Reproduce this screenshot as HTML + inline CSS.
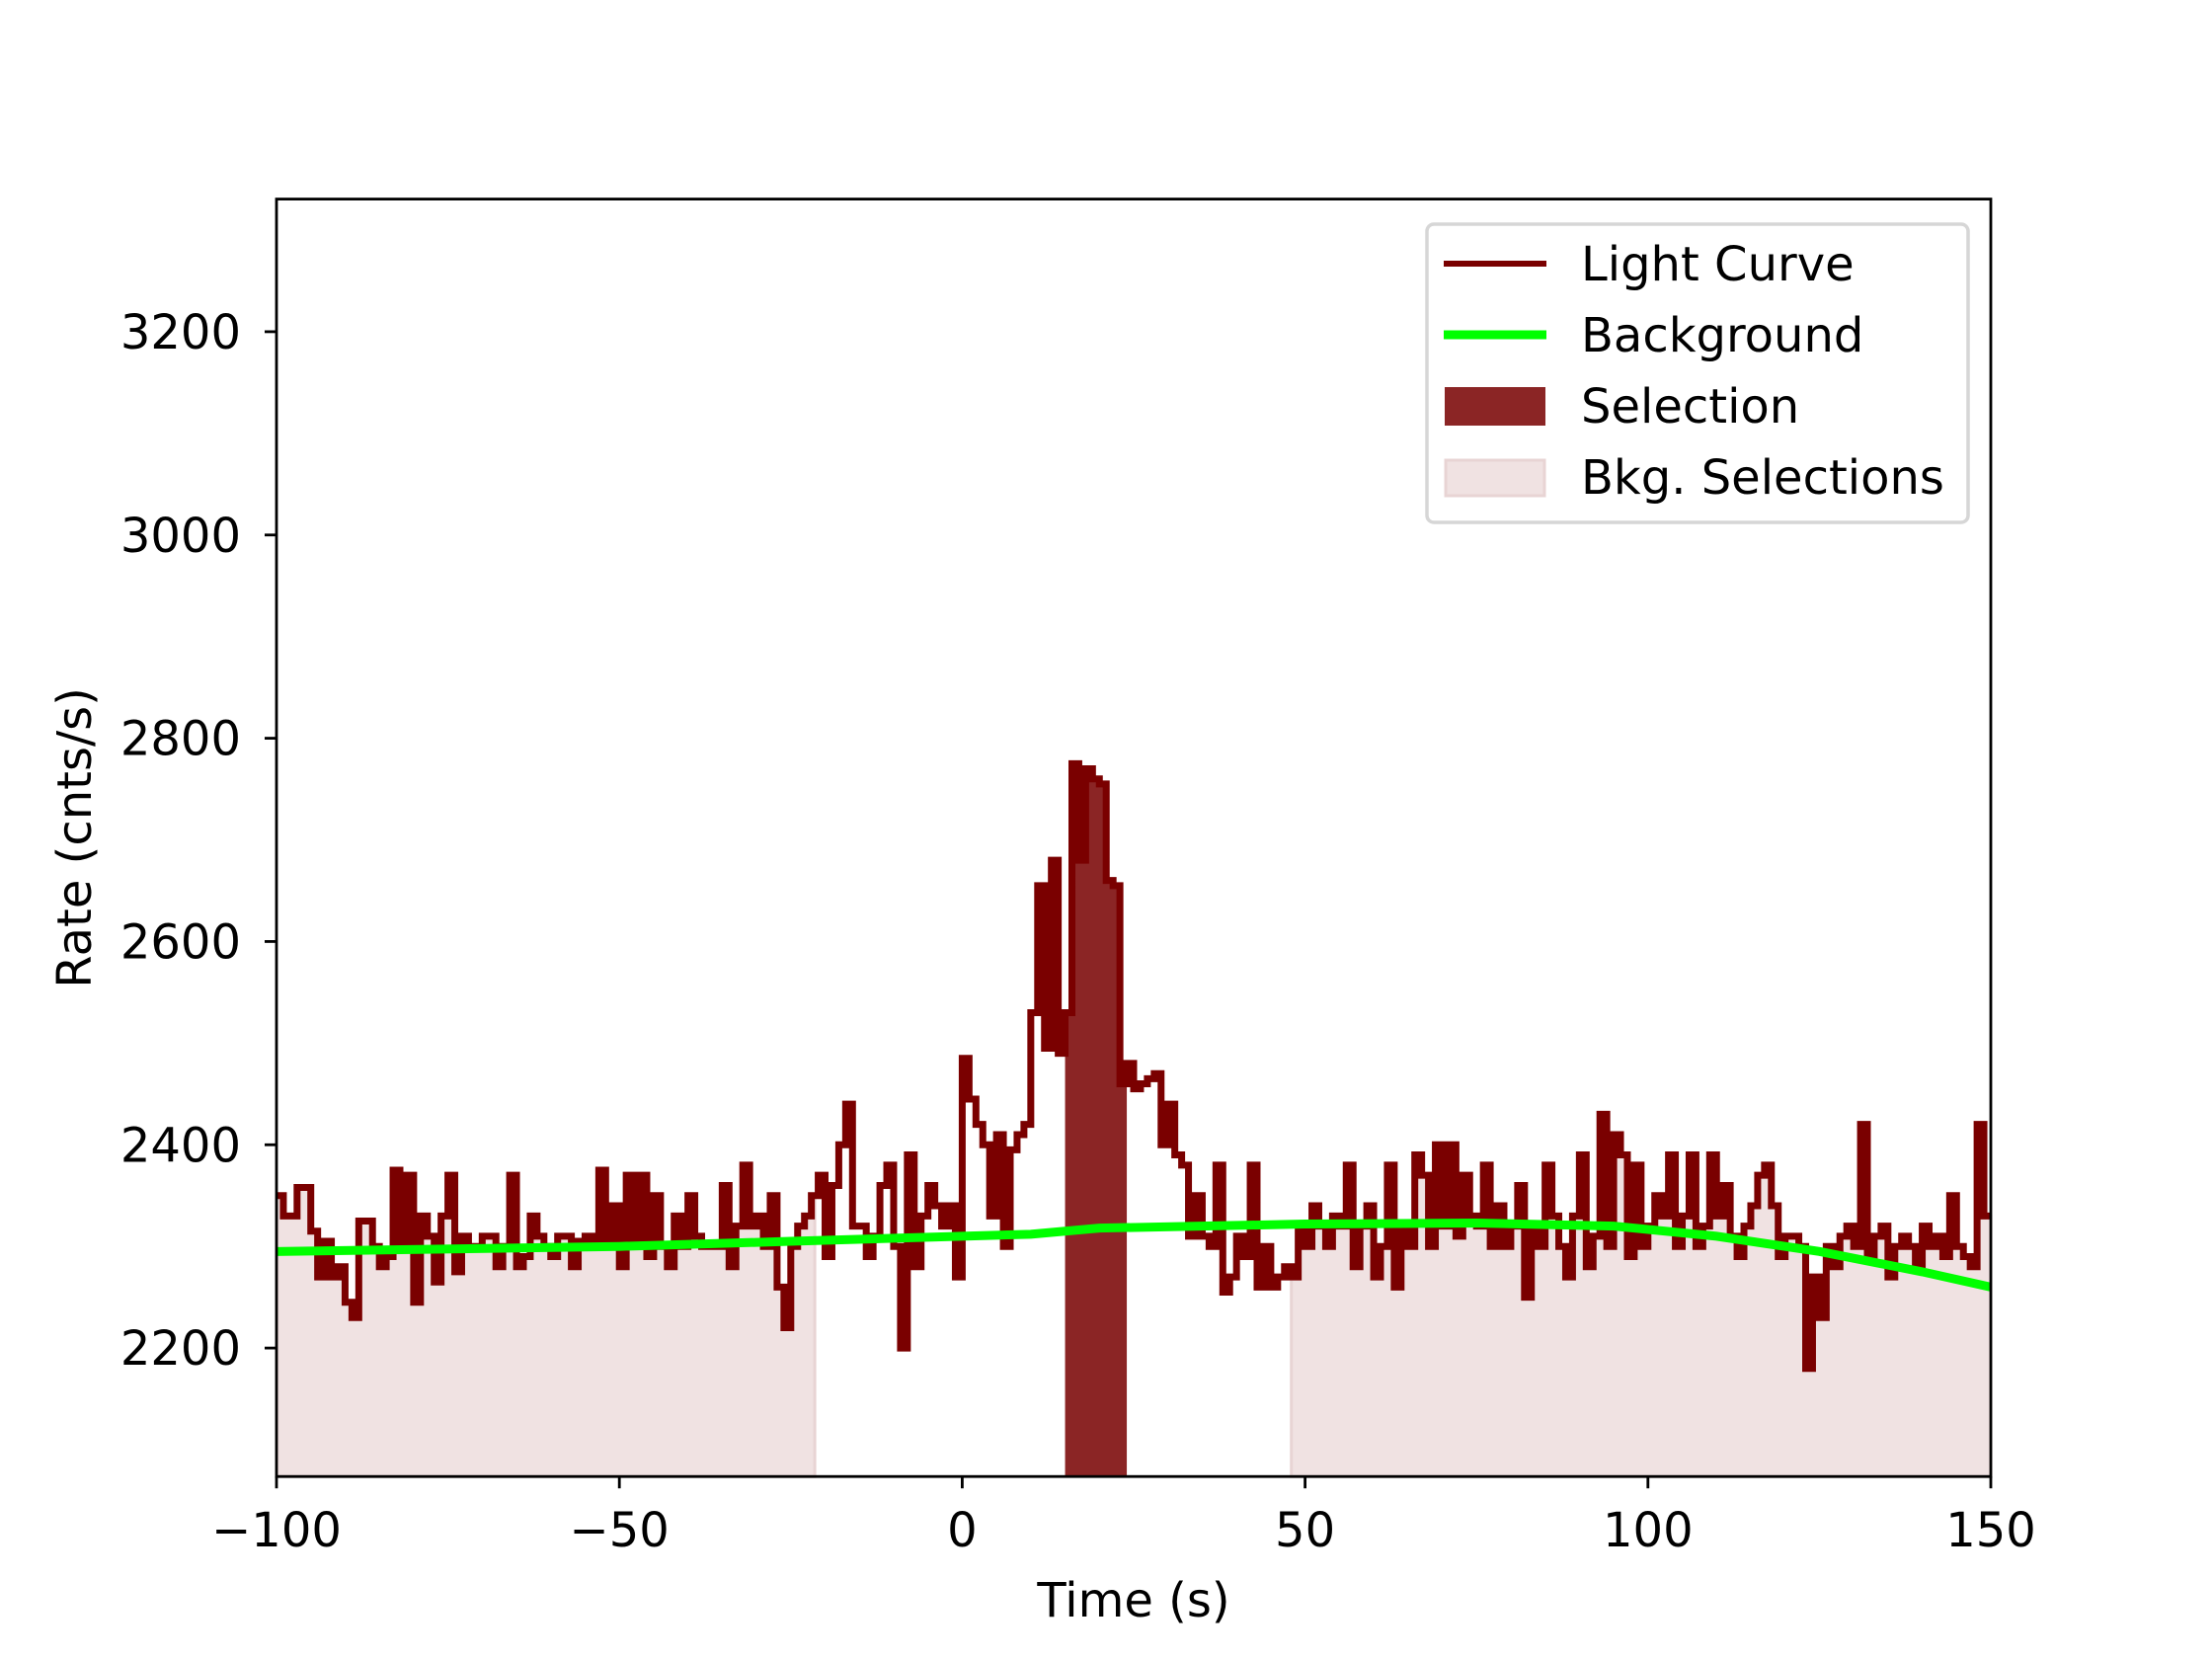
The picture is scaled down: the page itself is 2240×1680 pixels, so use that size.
<!DOCTYPE html>
<html><head><meta charset="utf-8"><style>
html,body{margin:0;padding:0;background:#fff;}
svg{display:block;font-family:"DejaVu Sans","Liberation Sans",sans-serif;}
</style></head><body>
<svg id="chart" width="2240" height="1680" viewBox="0 0 2240 1680" xmlns="http://www.w3.org/2000/svg">
<g id="plot"></g>
</svg>
<script>
const t0 = -100;
const binWidth = 1;
const rates = [
2350,2330,2330,2358,2358,2315,2270,2305,2270,2280,
2245,2230,2325,2325,2300,2280,2290,2375,2300,2370,
2245,2330,2310,2265,2330,2370,2275,2310,2300,2300,
2310,2310,2280,2300,2370,2280,2290,2330,2310,2300,
2290,2310,2310,2280,2305,2310,2305,2375,2300,2340,
2280,2370,2300,2370,2290,2350,2300,2280,2330,2300,
2350,2310,2300,2300,2300,2360,2280,2320,2380,2320,
2330,2300,2350,2260,2220,2300,2320,2330,2350,2370,
2290,2360,2400,2440,2320,2320,2290,2310,2360,2380,
2300,2200,2390,2280,2330,2360,2340,2320,2340,2270,
2485,2445,2420,2400,2330,2410,2300,2395,2410,2420,
2530,2655,2495,2680,2490,2530,2775,2680,2770,2760,
2755,2660,2655,2460,2480,2455,2460,2465,2470,2400,
2440,2390,2380,2310,2350,2310,2300,2380,2255,2270,
2310,2290,2380,2260,2300,2260,2270,2280,2270,2320,
2300,2340,2320,2300,2330,2320,2380,2280,2320,2340,
2270,2300,2380,2260,2320,2300,2390,2370,2300,2400,
2320,2400,2310,2370,2330,2320,2380,2300,2340,2300,
2320,2360,2250,2320,2300,2380,2330,2300,2270,2330,
2390,2280,2310,2430,2300,2410,2390,2290,2380,2300,
2320,2350,2330,2390,2300,2330,2390,2300,2320,2390,
2330,2360,2310,2290,2320,2340,2370,2380,2340,2290,
2310,2310,2300,2180,2270,2230,2300,2280,2310,2320,
2300,2420,2290,2310,2320,2270,2300,2310,2300,2280,
2320,2300,2310,2290,2350,2300,2290,2280,2420,2330];
const bgTimes = [-100,-50,-25,0,10,20,50,75,95,110,125,140,150];
const bgRates = [2295,2300,2305,2310,2312,2318,2322,2323,2320,2310,2295,2275,2260];
const selection = [15,24];
const bkgSelections = [[-100,-21.5],[48,150]];
const xTicks = [-100,-50,0,50,100,150];
const xTickLabels = ["\u2212100","\u221250","0","50","100","150"];
const yTicks = [2200,2400,2600,2800,3000,3200];
const yTickLabels = ["2200","2400","2600","2800","3000","3200"];
const legendLabels = ["Light Curve","Background","Selection","Bkg. Selections"];

const L=280,R=2016,T=201.6,B=1495.2;
const xMin=-100,xMax=150,yMin=2073.6,yMax=3330.5;
const X=v=>L+(v-xMin)/(xMax-xMin)*(R-L);
const Y=v=>B-(v-yMin)/(yMax-yMin)*(B-T);
const NS="http://www.w3.org/2000/svg";
const g=document.getElementById('plot');
function mk(tag,attrs,parent){const e=document.createElementNS(NS,tag);for(const k in attrs)e.setAttribute(k,attrs[k]);(parent||g).appendChild(e);return e;}
function rateAt(t){let i=Math.floor((t-t0)/binWidth);i=Math.max(0,Math.min(rates.length-1,i));return rates[i];}
function stepFill(a,b){
  let d=`M${X(a)},${Y(yMin)}`;
  let t=a;
  while(t<b){const i=Math.floor((t-t0)/binWidth+1e-9);const te=Math.min(b,t0+(i+1)*binWidth);const r=rateAt(t+1e-6);d+=` L${X(t)},${Y(r)} L${X(te)},${Y(r)}`;t=te;}
  d+=` L${X(b)},${Y(yMin)} Z`;return d;
}
bkgSelections.forEach((s,k)=>{
  const p=mk('path',{d:stepFill(s[0],s[1]),fill:'#f0e2e2',stroke:'#e8d4d4','stroke-width':3});
  
  
});
const sp=mk('path',{d:stepFill(selection[0],selection[1]),fill:'#8b2525'});


let d='';
rates.forEach((r,i)=>{const a=t0+i*binWidth,b=a+binWidth;d+=(i===0?`M${X(a)},${Y(r)}`:` L${X(a)},${Y(r)}`)+` L${X(b)},${Y(r)}`;});
const lc=mk('path',{d:d,fill:'none',stroke:'#7a0000','stroke-width':7,'stroke-linejoin':'miter'});


const bg=mk('polyline',{points:bgTimes.map((t,i)=>X(t)+','+Y(bgRates[i])).join(' '),fill:'none',stroke:'#00ff00','stroke-width':9});


const fr=mk('rect',{x:L,y:T,width:R-L,height:B-T,fill:'none',stroke:'#000','stroke-width':2.8});


xTicks.forEach((v,i)=>{
  const tk=mk('line',{x1:X(v),x2:X(v),y1:B,y2:B+12,stroke:'#000','stroke-width':2.8});
  
  
  const tx=mk('text',{x:X(v),y:B+71,'font-size':48,'text-anchor':'middle',fill:'#000'});
  tx.textContent=xTickLabels[i];
  
  
});
yTicks.forEach((v,i)=>{
  const tk=mk('line',{x1:L-12,x2:L,y1:Y(v),y2:Y(v),stroke:'#000','stroke-width':2.8});
  
  
  const tx=mk('text',{x:L-36,y:Y(v)+17,'font-size':48,'text-anchor':'end',fill:'#000'});
  tx.textContent=yTickLabels[i];
  
  
});
const xl=mk('text',{x:(L+R)/2,y:1637,'font-size':48,'text-anchor':'middle',fill:'#000'});
xl.textContent='Time (s)';


const yl=mk('text',{x:0,y:0,'font-size':48,'text-anchor':'middle',fill:'#000',transform:`translate(92,${(T+B)/2}) rotate(-90)`});
yl.textContent='Rate (cnts/s)';


const lg=mk('g',{});


mk('rect',{x:1445,y:227,width:548,height:302,rx:7,fill:'#fff',stroke:'#d6d6d6','stroke-width':3.5},lg);
const ys=[267,339,411,484];
const base=[284,356,428,500];
const h1=mk('line',{x1:1462,x2:1566,y1:ys[0],y2:ys[0],stroke:'#7a0000','stroke-width':6},lg);


const h2=mk('line',{x1:1462,x2:1566,y1:ys[1],y2:ys[1],stroke:'#00ff00','stroke-width':9},lg);


const h3=mk('rect',{x:1463,y:392,width:102,height:39,fill:'#8b2525'},lg);


const h4=mk('rect',{x:1464,y:466,width:100,height:36,fill:'#f0e2e2',stroke:'#e8d4d4','stroke-width':3},lg);


legendLabels.forEach((s,i)=>{
  const tx=mk('text',{x:1601,y:base[i],'font-size':48,fill:'#000'},lg);
  tx.textContent=s;
  
  
});
</script>
</body></html>
